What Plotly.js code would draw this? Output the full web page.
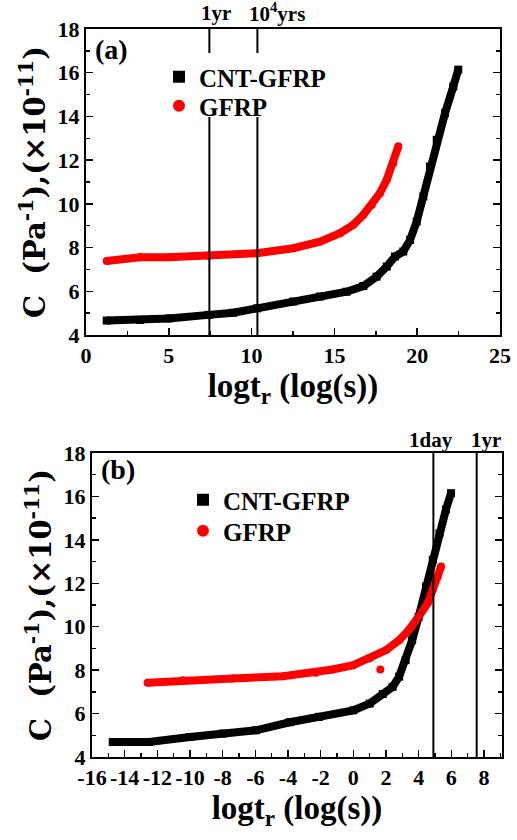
<!DOCTYPE html>
<html>
<head>
<meta charset="utf-8">
<script src="https://cdn.plot.ly/plotly-3.0.1.min.js"></script>
<style>html,body{margin:0;padding:0;background:#fff;}#chart{width:517px;height:840px;}</style>
</head>
<body>
<div id="chart"></div>
<script>
// ---------- data ----------
// Panel (a)
const cntA_x = [1.25, 3.26, 5.0, 7.41, 8.9, 10.33, 12.52, 14.13, 15.74, 16.75, 17.55, 18.16, 18.66, 19.16, 19.57, 19.97, 20.37, 20.77, 21.18, 21.68, 22.18, 22.48];
const cntA_y = [4.66, 4.69, 4.76, 4.92, 5.02, 5.22, 5.53, 5.76, 5.98, 6.24, 6.67, 7.13, 7.59, 7.82, 8.35, 9.19, 10.34, 11.71, 12.93, 14.15, 15.37, 16.14];
const gfrpA_x = [1.25, 3.26, 5.0, 7.41, 10.33, 12.52, 14.13, 15.34, 16.14, 16.75, 17.25, 17.75, 18.16, 18.56, 18.86];
const gfrpA_y = [7.39, 7.56, 7.56, 7.62, 7.74, 7.97, 8.27, 8.66, 9.04, 9.5, 9.95, 10.49, 11.1, 11.86, 12.63];
// Panel (b)
const cntB_x = [-14.73, -12.5, -10.0, -8.0, -5.96, -3.9, -2.1, 0.0, 1.0, 1.8, 2.4, 2.8, 3.2, 3.6, 4.0, 4.45, 4.86, 5.27, 5.67, 5.98];
const cntB_y = [4.69, 4.69, 4.92, 5.08, 5.23, 5.6, 5.85, 6.15, 6.46, 6.9, 7.23, 7.7, 8.46, 9.38, 10.46, 11.85, 13.08, 14.3, 15.4, 16.15];
const gfrpB_x = [-12.6, -10.45, -7.4, -4.3, -2.3, -1.27, 0.0, 0.98, 2.0, 2.8, 3.4, 4.0, 4.55, 4.86, 5.16, 5.37];
const gfrpB_y = [7.42, 7.54, 7.62, 7.72, 7.88, 8.03, 8.23, 8.54, 8.92, 9.38, 9.85, 10.46, 11.08, 11.7, 12.3, 12.77];
const gfrpB_outX = [1.65];
const gfrpB_outY = [8.03];
// tick labels of the lower panel's x axis (plain hyphen minus, as in the figure)
const tickB_vals = [-16, -14, -12, -10, -8, -6, -4, -2, 0, 2, 4, 6, 8];
const tickB_text = ['-16', '-14', '-12', '-10', '-8', '-6', '-4', '-2', '0', '2', '4', '6', '8'];
// reference time lines
const linesA_x = [7.45, 10.35];
const linesA_lab = ['1yr', '10<sup>4</sup>yrs'];
const linesB_x = [4.9, 7.55];
const linesB_lab = ['1day', '1yr'];
const seriesNames = ['CNT-GFRP', 'GFRP'];

// ---------- styles ----------
const BLACK = '#000000', RED = '#ff0000';
const serif = 'Liberation Serif';
const tickFont = {family: serif, size: 22, color: '#000', weight: 'bold'};

function bandTrace(x, y, color, xa, ya) {
  return {x: x, y: y, xaxis: xa, yaxis: ya, mode: 'lines', type: 'scatter',
          line: {color: color, width: 8}, showlegend: false, hoverinfo: 'skip'};
}
function markTrace(x, y, color, sym, name, xa, ya, leg) {
  return {x: x, y: y, xaxis: xa, yaxis: ya, mode: 'markers', type: 'scatter', name: name,
          marker: {color: color, symbol: sym, size: 8}, legend: leg, showlegend: true};
}

const data = [
  bandTrace(cntA_x, cntA_y, BLACK, 'x', 'y'),
  bandTrace(gfrpA_x, gfrpA_y, RED, 'x', 'y'),
  bandTrace(cntB_x, cntB_y, BLACK, 'x2', 'y2'),
  bandTrace(gfrpB_x, gfrpB_y, RED, 'x2', 'y2'),
  markTrace(cntA_x, cntA_y, BLACK, 'square', seriesNames[0], 'x', 'y', 'legend'),
  markTrace(gfrpA_x, gfrpA_y, RED, 'circle', seriesNames[1], 'x', 'y', 'legend2'),
  markTrace(cntB_x, cntB_y, BLACK, 'square', seriesNames[0], 'x2', 'y2', 'legend3'),
  markTrace(gfrpB_x, gfrpB_y, RED, 'circle', seriesNames[1], 'x2', 'y2', 'legend4'),
  {x: gfrpB_outX, y: gfrpB_outY, xaxis: 'x2', yaxis: 'y2', mode: 'markers', type: 'scatter',
   marker: {color: RED, symbol: 'circle', size: 8}, showlegend: false}
];

function xAxis(domain, range, dtick, minorDtick, anchor) {
  return {domain: domain, range: range, anchor: anchor, dtick: dtick, tick0: 0, tickangle: 0,
          showgrid: false, zeroline: false, showline: true, linecolor: '#000', linewidth: 2,
          mirror: true, ticks: 'inside', ticklen: 7, tickwidth: 1.5, tickcolor: '#000',
          minor: {tickmode: 'linear', dtick: minorDtick, tick0: 0, ticks: 'inside', ticklen: 4, tickwidth: 1.5, tickcolor: '#000'},
          tickfont: tickFont,
          title: {text: 'logt<sub>r</sub> (log(s))', font: {family: serif, size: 33, color: '#000', weight: 'bold'}, standoff: 4}};
}
function yAxis(domain, anchor) {
  return {domain: domain, range: [4, 18], anchor: anchor, dtick: 2, tick0: 0,
          showgrid: false, zeroline: false, showline: true, linecolor: '#000', linewidth: 2,
          mirror: 'allticks', ticks: 'inside', ticklen: 7, tickwidth: 1.5, tickcolor: '#000',
          minor: {dtick: 1, ticks: 'inside', ticklen: 4, tickwidth: 1.5, tickcolor: '#000'},
          tickfont: tickFont,
          title: {text: 'C  (Pa<sup>-1</sup>),(×10<sup>-11</sup>)', font: {family: 'DejaVu Serif', size: 29, color: '#000', weight: 'bold'}, standoff: 3}};
}

const W = 517, H = 840;
function px(v) { return v / W; }
function py(v) { return 1 - v / H; }

const shapes = [];
const annotations = [];
linesA_x.forEach(function (xv, i) {
  shapes.push({type: 'line', xref: 'x', yref: 'y domain', x0: xv, x1: xv, y0: 0, y1: 1, line: {color: '#000', width: 2}});
  annotations.push({xref: 'x', yref: 'paper', x: xv, y: py(13), text: linesA_lab[i], showarrow: false,
    xanchor: 'left', yanchor: 'middle', xshift: -10, font: {family: serif, size: 21, color: '#000', weight: 'bold'}});
});
// white patch behind the legend of panel (a), which hides the time lines there
shapes.push({type: 'rect', xref: 'paper', yref: 'paper', x0: px(160), x1: px(335), y0: py(117), y1: py(53),
  fillcolor: '#ffffff', line: {width: 0}, layer: 'above'});
linesB_x.forEach(function (xv, i) {
  shapes.push({type: 'line', xref: 'x2', yref: 'y2 domain', x0: xv, x1: xv, y0: 0, y1: 1, line: {color: '#000', width: 2}});
  annotations.push({xref: 'x2', yref: 'paper', x: xv, y: py(440), text: linesB_lab[i], showarrow: false,
    xanchor: i === 0 ? 'center' : 'left', yanchor: 'middle', xshift: i === 0 ? -2 : -8,
    font: {family: serif, size: 21, color: '#000', weight: 'bold'}});
});
annotations.push({xref: 'paper', yref: 'paper', x: px(111), y: py(49), text: '(a)', showarrow: false,
  xanchor: 'center', yanchor: 'middle', font: {family: serif, size: 28, color: '#000', weight: 'bold'}});
annotations.push({xref: 'paper', yref: 'paper', x: px(118), y: py(469), text: '(b)', showarrow: false,
  xanchor: 'center', yanchor: 'middle', font: {family: serif, size: 28, color: '#000', weight: 'bold'}});

function legendAt(left, cy) {
  return {x: px(left), y: py(cy), xanchor: 'left', yanchor: 'middle', bgcolor: 'rgba(255,255,255,0)',
          borderwidth: 0, font: {family: serif, size: 25, color: '#000', weight: 'bold'}, itemsizing: 'constant'};
}

const xa2 = xAxis([px(92), px(502)], [-16, 9.1], 2, 1, 'y2');
xa2.tickmode = 'array';
xa2.tickvals = tickB_vals;
xa2.ticktext = tickB_text;

const layout = {
  width: W, height: H,
  margin: {l: 0, r: 0, t: 0, b: 0},
  paper_bgcolor: '#fff', plot_bgcolor: '#fff',
  xaxis: xAxis([px(86), px(500)], [0, 25], 5, 2.5, 'y'),
  yaxis: yAxis([py(335), py(29)], 'x'),
  xaxis2: xa2,
  yaxis2: yAxis([py(757), py(453)], 'x2'),
  legend: legendAt(159, 77),
  legend2: legendAt(159, 106),
  legend3: legendAt(183, 500),
  legend4: legendAt(183, 531),
  shapes: shapes,
  annotations: annotations
};

Plotly.newPlot('chart', data, layout, {staticPlot: true});
</script>
</body>
</html>
